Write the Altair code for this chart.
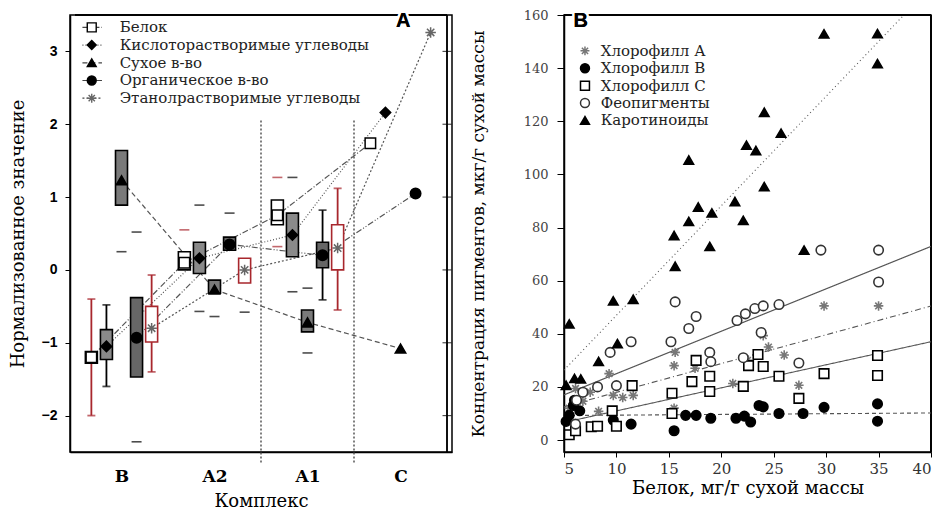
import altair as alt
import pandas as pd

# ---------------- Panel A data ----------------
complexes = ["B", "A2", "A1", "C"]
series = ["Белок", "Кислоторастворимые углеводы", "Сухое в-во",
          "Органическое в-во", "Этанолрастворимые углеводы"]

# mean values for B, A2, A1, C
mean_protein = [-1.20, 0.10, 0.75, 1.74]
mean_acid = [-1.05, 0.16, 0.48, 2.16]
mean_dry = [1.23, -0.27, -0.72, -1.08]
mean_org = [-0.93, 0.35, 0.20, 1.05]
mean_eth = [-0.80, 0.00, 0.30, 3.26]

# boxes (lower / upper) for B, A2, A1
q1_protein = [-1.28, 0.00, 0.62]
q3_protein = [-1.12, 0.25, 0.96]
q1_acid = [-1.23, -0.05, 0.18]
q3_acid = [-0.82, 0.38, 0.78]
q1_dry = [0.89, -0.32, -0.85]
q3_dry = [1.64, -0.14, -0.55]
q1_org = [-1.47, 0.27, 0.03]
q3_org = [-0.38, 0.45, 0.38]
q1_eth = [-0.99, -0.18, 0.00]
q3_eth = [-0.50, 0.16, 0.62]

whisker_complex = ["B", "B", "B", "A1", "A1"]
whisker_series = ["Белок", "Кислоторастворимые углеводы", "Этанолрастворимые углеводы",
                  "Органическое в-во", "Этанолрастворимые углеводы"]
whisker_low = [-2.00, -1.60, -1.40, -0.41, -0.55]
whisker_high = [-0.40, -0.48, -0.07, 0.82, 1.12]

outlier_complex = ["B", "B", "B", "A2", "A2", "A2", "A2", "A2", "A2",
                   "A1", "A1", "A1", "A1", "A1", "A1"]
outlier_series = ["Сухое в-во", "Органическое в-во", "Органическое в-во",
                  "Белок", "Кислоторастворимые углеводы", "Кислоторастворимые углеводы",
                  "Сухое в-во", "Органическое в-во", "Этанолрастворимые углеводы",
                  "Белок", "Белок", "Кислоторастворимые углеводы",
                  "Кислоторастворимые углеводы", "Сухое в-во", "Сухое в-во"]
outlier_value = [0.25, 0.52, -2.36, 0.55, 0.89, -0.57, -0.64, 0.78, -0.58,
                 1.27, 0.32, 1.27, -0.30, -0.25, -1.14]

# ---------------- Panel B data ----------------
pigments = ["Хлорофилл А", "Хлорофилл В", "Хлорофилл С", "Феопигменты", "Каротиноиды"]
chlA_x = [5.5, 6.1, 6.8, 7.5, 8.3, 9.3, 9.7, 10.6, 11.6, 15.5, 15.5, 15.6, 17.5, 21.1, 22.5, 24.0, 24.5, 26.0, 27.4, 29.8, 35.0]
chlA_y = [12.0, 19.4, 14.6, 18.0, 10.8, 25.0, 16.8, 16.0, 16.8, 12.0, 28.0, 33.0, 27.0, 21.3, 30.0, 39.3, 35.0, 32.0, 20.6, 50.5, 50.5]
chlB_x = [5.2, 5.5, 5.9, 6.0, 6.5, 9.7, 11.4, 15.5, 16.6, 17.6, 19.0, 21.4, 22.2, 22.8, 23.6, 24.0, 25.5, 27.8, 29.8, 34.9, 34.9]
chlB_y = [7.0, 9.3, 13.0, 15.0, 11.0, 7.5, 6.0, 3.5, 9.3, 9.3, 8.2, 8.2, 9.0, 6.8, 13.0, 12.5, 10.0, 10.0, 12.3, 13.6, 7.1]
chlC_x = [5.5, 6.1, 7.6, 8.2, 10.0, 9.6, 11.5, 15.3, 15.3, 17.2, 17.6, 18.9, 18.9, 22.1, 22.6, 23.5, 24.0, 25.5, 27.4, 29.8, 34.9, 34.9]
chlC_y = [2.0, 3.5, 5.0, 5.2, 5.2, 11.0, 20.5, 10.0, 17.6, 22.0, 30.0, 24.0, 18.3, 20.2, 28.0, 32.2, 27.7, 24.0, 15.7, 25.0, 31.8, 24.3]
pheo_x = [6.1, 6.2, 6.8, 8.2, 9.4, 10.0, 11.4, 15.2, 15.6, 16.9, 17.6, 18.9, 19.0, 21.5, 22.3, 23.2, 24.0, 25.5, 23.8, 22.1, 27.4, 29.5, 35.0, 35.0]
pheo_y = [6.0, 15.0, 18.0, 20.0, 33.0, 20.5, 37.0, 37.0, 52.0, 42.0, 46.5, 33.0, 29.5, 45.0, 47.5, 49.5, 50.5, 51.0, 40.5, 31.0, 29.0, 71.5, 71.5, 59.5]
carot_x = [5.2, 5.5, 6.0, 6.6, 8.3, 9.7, 10.1, 11.6, 15.5, 15.6, 16.9, 16.9, 17.8, 18.9, 19.1, 21.3, 22.1, 22.4, 23.3, 24.1, 24.1, 25.7, 27.9, 29.8, 34.9, 34.9]
carot_y = [20.6, 43.7, 23.2, 23.0, 29.6, 52.4, 36.3, 53.0, 77.0, 65.4, 82.3, 105.4, 87.7, 72.9, 85.5, 89.8, 82.7, 111.0, 109.0, 123.4, 95.4, 115.5, 71.5, 152.9, 153.0, 141.7]

# ---------------- styles ----------------
RED = "#a8272d"
SERIF = "DejaVu Serif"
OFFSET = 0.162
ASTER = "M-1,0L1,0M0,-1L0,1M-0.7,-0.7L0.7,0.7M-0.7,0.7L0.7,-0.7"
FRAME = alt.ViewBackground(stroke="black", strokeWidth=1.5, fill="white")

box_fill = {series[0]: "white", series[1]: "#8a8a8a", series[2]: "#7a7a7a",
            series[3]: "#666666", series[4]: "white"}
box_stroke = {series[0]: "black", series[1]: "black", series[2]: "black",
              series[3]: "black", series[4]: RED}
wh_color = {series[0]: RED, series[1]: "black", series[2]: "black",
            series[3]: "black", series[4]: RED}


def pos(c, s):
    return complexes.index(c) + 0.5 + (series.index(s) - 2) * OFFSET


means = [mean_protein, mean_acid, mean_dry, mean_org, mean_eth]
q1s = [q1_protein, q1_acid, q1_dry, q1_org, q1_eth]
q3s = [q3_protein, q3_acid, q3_dry, q3_org, q3_eth]

mean_rows, box_rows = [], []
for si, s in enumerate(series):
    for ci, c in enumerate(complexes):
        mean_rows.append({"series": s, "pos": pos(c, s), "mean": means[si][ci]})
        if ci < 3:
            box_rows.append({"series": s, "pos": pos(c, s), "q1": q1s[si][ci], "q3": q3s[si][ci],
                             "fill": box_fill[s], "stroke": box_stroke[s]})
mean_df = pd.DataFrame(mean_rows)
box_df = pd.DataFrame(box_rows)
wh_df = pd.DataFrame({
    "series": whisker_series,
    "pos": [pos(c, s) for c, s in zip(whisker_complex, whisker_series)],
    "lo": whisker_low, "hi": whisker_high,
    "color": [wh_color[s] for s in whisker_series]})
out_df = pd.DataFrame({
    "series": outlier_series,
    "pos": [pos(c, s) for c, s in zip(outlier_complex, outlier_series)],
    "v": outlier_value,
    "color": [RED if s == series[0] else "black" for s in outlier_series]})
sep_df = pd.DataFrame({"pos": [float(complexes.index("A1")), float(complexes.index("C"))]})

A_YTICKS = [-2, -1, 0, 1, 2, 3]
mirror_df = pd.DataFrame({"t": A_YTICKS})

# legend rows (layout only: row index -> position inside the panel)
legA_df = pd.DataFrame({"series": series, "row": list(range(len(series)))})
legA_df["ly"] = 3.33 - legA_df["row"] * 0.243
legA_df["lx"] = 0.18
legA_df["lx1"] = 0.08
legA_df["lx2"] = 0.29
legA_df["tx"] = 0.48

label_expr = "[" + ",".join("'%s'" % c for c in complexes) + "][floor(datum.value)]"
xA = alt.Scale(domain=[0, 4], nice=False, zero=False)
yA = alt.Scale(domain=[-2.5, 3.5], nice=False, zero=False)
axA_x = alt.Axis(values=[0.5, 1.5, 2.5, 3.5], labelExpr=label_expr, ticks=False, grid=False,
                 title="Комплекс", labelFont=SERIF, labelFontSize=17, labelFontWeight="bold",
                 labelPadding=16, titleFont=SERIF, titleFontSize=18, titleFontWeight="normal",
                 titlePadding=8, domainColor="black", domainWidth=1.5, labelColor="black",
                 titleColor="black")
axA_y = alt.Axis(values=A_YTICKS, format="d", grid=False, title="Нормализованное значение",
                 labelFont="Liberation Sans", labelFontSize=14, labelFontWeight="bold",
                 tickSize=5, labelPadding=8, titleFont=SERIF, titleFontSize=18,
                 titleFontWeight="normal", titlePadding=14, domainColor="black", domainWidth=1.5,
                 tickColor="black", labelColor="black", titleColor="black")

shapeA = alt.Shape("series:N", scale=alt.Scale(domain=series, range=["square", "diamond", "triangle-up", "circle", ASTER]), legend=None)
fillA = alt.Fill("series:N", scale=alt.Scale(domain=series, range=["white", "black", "black", "black", "white"]), legend=None)
strokeA = alt.Stroke("series:N", scale=alt.Scale(domain=series, range=["black", "black", "black", "black", "#666666"]), legend=None)
dashA = alt.StrokeDash("series:N", scale=alt.Scale(domain=series, range=[[6, 2, 1, 2], [1, 2], [5, 3], [6, 2, 1, 2, 1, 2], [2, 2]]), legend=None)

X = alt.X("pos:Q", scale=xA, axis=axA_x)

frameA_top = alt.Chart(sep_df).mark_rule(color="black", strokeWidth=1.5).encode(
    x=alt.datum(0, scale=xA, axis=axA_x), x2=alt.datum(4), y=alt.datum(3.5, scale=yA, axis=axA_y))
frameA_right = alt.Chart(sep_df).mark_rule(color="black", strokeWidth=1.5).encode(
    x=alt.datum(4, scale=xA, axis=axA_x), y=alt.datum(-2.5, scale=yA, axis=axA_y), y2=alt.datum(3.5))
mirrorA = alt.Chart(mirror_df).mark_tick(orient="horizontal", size=9, thickness=1.2, color="black").encode(
    x=alt.datum(4, scale=xA, axis=axA_x), y=alt.Y("t:Q", scale=yA, axis=axA_y))

seps = alt.Chart(sep_df).mark_rule(color="#555555", strokeDash=[2, 2], strokeWidth=1.5).encode(
    x=X, y=alt.datum(2.05, scale=yA, axis=axA_y), y2=alt.datum(-2.66))

lines = alt.Chart(mean_df).mark_line(color="#555555", strokeWidth=1.2).encode(
    x=X, y=alt.Y("mean:Q", scale=yA, axis=axA_y), detail="series:N", strokeDash=dashA)

whiskers = alt.Chart(wh_df).mark_rule(strokeWidth=1.8).encode(
    x=X, y=alt.Y("lo:Q", scale=yA, axis=axA_y), y2="hi:Q", color=alt.Color("color:N", scale=None))
cap_lo = alt.Chart(wh_df).mark_tick(orient="horizontal", size=8, thickness=1.8).encode(
    x=X, y=alt.Y("lo:Q", scale=yA, axis=axA_y), color=alt.Color("color:N", scale=None))
cap_hi = alt.Chart(wh_df).mark_tick(orient="horizontal", size=8, thickness=1.8).encode(
    x=X, y=alt.Y("hi:Q", scale=yA, axis=axA_y), color=alt.Color("color:N", scale=None))

boxes = alt.Chart(box_df).mark_bar(size=12, strokeWidth=1.6).encode(
    x=X, y=alt.Y("q1:Q", scale=yA, axis=axA_y), y2="q3:Q",
    fill=alt.Fill("fill:N", scale=None), stroke=alt.Stroke("stroke:N", scale=None))

outs = alt.Chart(out_df).mark_tick(orient="horizontal", size=10, thickness=1.6).encode(
    x=X, y=alt.Y("v:Q", scale=yA, axis=axA_y), color=alt.Color("color:N", scale=None))

pts = alt.Chart(mean_df).mark_point(size=110, strokeWidth=1.5, opacity=1, filled=False).encode(
    x=X, y=alt.Y("mean:Q", scale=yA, axis=axA_y), shape=shapeA, fill=fillA, stroke=strokeA)

legA_line = alt.Chart(legA_df).mark_rule(color="#444444", strokeWidth=1.2).encode(
    x=alt.X("lx1:Q", scale=xA, axis=axA_x), x2="lx2:Q", y=alt.Y("ly:Q", scale=yA, axis=axA_y),
    strokeDash=dashA)
legA_pts = alt.Chart(legA_df).mark_point(size=80, strokeWidth=1.4, opacity=1, filled=False).encode(
    x=alt.X("lx:Q", scale=xA, axis=axA_x), y=alt.Y("ly:Q", scale=yA, axis=axA_y),
    shape=shapeA, fill=fillA, stroke=strokeA)
legA_txt = alt.Chart(legA_df).mark_text(align="left", baseline="middle", font=SERIF, fontSize=15,
                                        color="#222222").encode(
    x=alt.X("tx:Q", scale=xA, axis=axA_x), y=alt.Y("ly:Q", scale=yA, axis=axA_y), text="series:N")

letterA_bg = alt.Chart(sep_df).mark_text(text="A", fontSize=20, fontWeight="bold", font="Liberation Sans",
                                         fill="white", stroke="white", strokeWidth=5).encode(
    x=alt.datum(3.53), y=alt.datum(3.42))
letterA = alt.Chart(sep_df).mark_text(text="A", fontSize=20, fontWeight="bold", font="Liberation Sans",
                                      color="black").encode(x=alt.datum(3.53), y=alt.datum(3.42))

panelA = alt.layer(frameA_top, frameA_right, mirrorA, seps, lines, whiskers, cap_lo, cap_hi, boxes,
                   outs, pts, legA_line, legA_pts, legA_txt, letterA_bg, letterA).properties(
    width=382, height=437, view=FRAME)

# ---------------- Panel B ----------------
pig_x = [chlA_x, chlB_x, chlC_x, pheo_x, carot_x]
pig_y = [chlA_y, chlB_y, chlC_y, pheo_y, carot_y]
pig_rows = []
for pi, p in enumerate(pigments):
    for xv, yv in zip(pig_x[pi], pig_y[pi]):
        pig_rows.append({"pigment": p, "protein": xv, "value": yv})
pig_df = pd.DataFrame(pig_rows)

legB_df = pd.DataFrame({"pigment": pigments, "row": list(range(len(pigments)))})
legB_df["value"] = 146.5 - legB_df["row"] * 6.55
legB_df["protein"] = 7.0
legB_df["tx"] = 8.5

xB = alt.Scale(domain=[5, 40], nice=False, zero=False)
yB = alt.Scale(domain=[-4.5, 160], nice=False, zero=False)
axB_x = alt.Axis(values=list(range(5, 41, 5)), grid=False, title="Белок, мг/г сухой массы",
                 labelFont=SERIF, labelFontSize=15, labelColor="#333333", tickSize=5,
                 labelPadding=4, titleFont=SERIF, titleFontSize=18, titleFontWeight="normal",
                 titlePadding=3, labelFlush=True, domainColor="black", domainWidth=1.5,
                 tickColor="black", titleColor="black")
axB_y = alt.Axis(values=list(range(0, 161, 20)), grid=False,
                 title="Концентрация пигментов, мкг/г сухой массы",
                 labelFont=SERIF, labelFontSize=13, labelColor="#444444", tickSize=7,
                 labelPadding=9, titleFont=SERIF, titleFontSize=17, titleFontWeight="normal",
                 titlePadding=36, domainColor="black", domainWidth=1.5, tickColor="black",
                 titleColor="black")

shapeB = alt.Shape("pigment:N", scale=alt.Scale(domain=pigments, range=[ASTER, "circle", "square", "circle", "triangle-up"]), legend=None)
fillB = alt.Fill("pigment:N", scale=alt.Scale(domain=pigments, range=["white", "black", "white", "white", "black"]), legend=None)
strokeB = alt.Stroke("pigment:N", scale=alt.Scale(domain=pigments, range=["#777777", "black", "black", "#333333", "black"]), legend=None)

XB = alt.X("protein:Q", scale=xB, axis=axB_x)
YB = alt.Y("value:Q", scale=yB, axis=axB_y)

frameB_top = alt.Chart(sep_df).mark_rule(color="black", strokeWidth=1.5).encode(
    x=alt.datum(5, scale=xB, axis=axB_x), x2=alt.datum(40), y=alt.datum(160, scale=yB, axis=axB_y))
frameB_right = alt.Chart(sep_df).mark_rule(color="black", strokeWidth=1.5).encode(
    x=alt.datum(40, scale=xB, axis=axB_x), y=alt.datum(-4.5, scale=yB, axis=axB_y), y2=alt.datum(160))

reg = alt.Chart(pig_df).transform_regression(
    "protein", "value", groupby=["pigment"], extent=[5, 40]
).mark_line(clip=True, color="#555555", strokeWidth=1.1).encode(
    x=XB, y=YB, detail="pigment:N",
    strokeDash=alt.StrokeDash("pigment:N", scale=alt.Scale(domain=pigments, range=[[6, 3, 1, 3], [4, 3], [1, 0], [1, 0], [1, 3]]), legend=None))

ptsB = alt.Chart(pig_df).mark_point(size=90, strokeWidth=1.6, opacity=1, filled=False).encode(
    x=XB, y=YB, shape=shapeB, fill=fillB, stroke=strokeB)

legB_pts = alt.Chart(legB_df).mark_point(size=80, strokeWidth=1.5, opacity=1, filled=False).encode(
    x=XB, y=YB, shape=shapeB, fill=fillB, stroke=strokeB)
legB_txt = alt.Chart(legB_df).mark_text(align="left", baseline="middle", font=SERIF, fontSize=15,
                                        color="#222222").encode(
    x=alt.X("tx:Q", scale=xB, axis=axB_x), y=YB, text="pigment:N")

letterB_bg = alt.Chart(sep_df).mark_text(text="B", fontSize=20, fontWeight="bold", font="Liberation Sans",
                                         fill="white", stroke="white", strokeWidth=5).encode(
    x=alt.datum(6.6), y=alt.datum(157.8))
letterB = alt.Chart(sep_df).mark_text(text="B", fontSize=20, fontWeight="bold", font="Liberation Sans",
                                      color="black").encode(x=alt.datum(6.6), y=alt.datum(157.8))

panelB = alt.layer(frameB_top, frameB_right, reg, ptsB, legB_pts, legB_txt, letterB_bg, letterB).properties(
    width=367, height=437, view=FRAME)

chart = alt.hconcat(panelA, panelB, spacing=15).resolve_scale(
    shape="independent", fill="independent", stroke="independent", strokeDash="independent",
    x="independent", y="independent"
).properties(
    padding={"left": 0, "top": 0, "right": 0, "bottom": 0}, background="white"
).configure_view(stroke="black", strokeWidth=1.5)

chart.save("out.html", embed_options={"renderer": "svg", "actions": False})
